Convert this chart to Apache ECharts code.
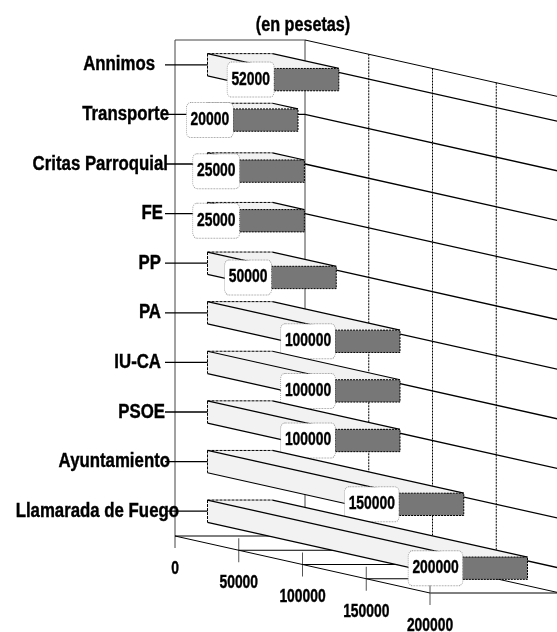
<!DOCTYPE html>
<html>
<head>
<meta charset="utf-8">
<script src="https://cdn.jsdelivr.net/npm/echarts@6/dist/echarts.min.js"></script>
<style>
  html, body { margin: 0; padding: 0; background: #fff; }
  #chart { width: 557px; height: 632px; }
</style>
</head>
<body>
<div id="chart"></div>
<script>
const chartTitle = "(en pesetas)";
const categories = ["Annimos", "Transporte", "Critas Parroquial", "FE", "PP", "PA", "IU-CA", "PSOE", "Ayuntamiento", "Llamarada de Fuego"];
const amounts = [52000, 20000, 25000, 25000, 50000, 100000, 100000, 100000, 150000, 200000];
const tickValues = [0, 50000, 100000, 150000, 200000];
const wallTicks = [50000, 100000, 150000];

// right edge of each category label, left of the axis. they are not aligned
const labelGaps = [20, 6, 7, 12, 14, 14, 14, 10, 5, -4];

const FONT = '"Liberation Sans", sans-serif';
const NARROW = 0.77; // the reference uses a squeezed bold face
const NARROW_NAMES = 0.84;
const DEPTH = 130; // depth of the left wall, px
const SHEAR = 57 / 255; // how far the value axis falls per px
const BAR_START = 0.25;
const BAR_DEPTH = 0.5;

const myChart = echarts.init(document.getElementById("chart"));

function line(x1, y1, x2, y2, stroke, lineWidth, lineDash) {
  return {
    type: "line",
    shape: { x1, y1, x2, y2 },
    style: { stroke, lineWidth, lineDash: lineDash || null }
  };
}

function narrowText(text, x, y, align, fontSize, scaleX, extra) {
  return {
    type: "text",
    x: x,
    y: y,
    scaleX: scaleX,
    style: Object.assign({
      text: text,
      x: 0,
      y: 0,
      align: align,
      verticalAlign: "middle",
      fontFamily: FONT,
      fontWeight: "bold",
      fontSize: fontSize,
      fill: "#000",
      stroke: "#000",
      lineWidth: 0.4
    }, extra || {})
  };
}

// walls, floor and all axis text, drawn behind the bars
function renderFrame(params, api) {
  const left = params.coordSys.x;
  const top = params.coordSys.y;
  const bottom = top + params.coordSys.height;
  const back = left + DEPTH;
  const children = [];

  children.push(line(left, top, back, top, "#444", 1));
  children.push(line(left, top, left, bottom + 12, "#444", 1));
  children.push(line(back, top, back, bottom, "#444", 1));

  const endX = api.coord([200000, 0])[0];
  const run = endX - left;
  children.push(line(back, top, back + run, top + run * SHEAR, "#000", 1));
  children.push(line(back, bottom, back + run, bottom + run * SHEAR, "#000", 1));
  children.push(line(left, bottom, back, bottom, "#000", 1));

  wallTicks.forEach(function (v) {
    const dx = api.coord([v, 0])[0] - left;
    children.push(line(back + dx, top + dx * SHEAR, back + dx, bottom + dx * SHEAR, "#000", 1, [2, 1]));
  });

  // category lines run across the left wall and along the back wall
  categories.forEach(function (name, i) {
    const y = api.coord([0, i])[1];
    children.push(line(left - 10, y, back, y, "#000", 1.3));
    children.push(line(back, y, back + run, y + run * SHEAR, "#000", 1.3));
  });

  // value ticks, floor lines and their labels
  tickValues.forEach(function (v) {
    const dx = api.coord([v, 0])[0] - left;
    const x = left + dx;
    const y = bottom + dx * SHEAR;
    if (v > 0) {
      children.push(line(x, y, x + DEPTH, y, "#000", 1));
      children.push(line(x, y - 12, x, y + 12, "#555", 1));
    }
    children.push(narrowText(String(v), x, y + 33, "center", 18, NARROW));
  });
  children.push(line(left, bottom, endX, bottom + run * SHEAR, "#000", 1));

  categories.forEach(function (name, i) {
    const y = api.coord([0, i])[1];
    children.push(narrowText(name, left - labelGaps[i], y, "right", 20, NARROW_NAMES));
  });
  children.push(narrowText(chartTitle, back - 2, top - 15, "center", 20, 0.81));

  return { type: "group", children };
}

function renderBar(params, api) {
  const value = api.value(0);
  const cat = api.value(1);
  const left = params.coordSys.x;
  const center = api.coord([0, cat])[1];
  const band = api.size([0, 1])[1];
  const h = band * 0.45;
  const dx = api.coord([value, cat])[0] - left;
  const dy = dx * SHEAR;
  const x0 = left + DEPTH * BAR_START;
  const w = DEPTH * BAR_DEPTH;
  const y0 = center - h / 2;

  const lightFace = { fill: "#f2f2f2" };
  return {
    type: "group",
    children: [
      {
        type: "polygon",
        shape: { points: [[x0, y0], [x0 + w, y0], [x0 + w + dx, y0 + dy], [x0 + dx, y0 + dy]] },
        style: lightFace
      },
      {
        type: "polygon",
        shape: { points: [[x0, y0], [x0 + dx, y0 + dy], [x0 + dx, y0 + dy + h], [x0, y0 + h]] },
        style: lightFace
      },
      line(x0, y0, x0 + w, y0, "#000", 1, [3, 1]),
      line(x0, y0, x0, y0 + h, "#000", 1, [3, 1]),
      line(x0, y0, x0 + dx, y0 + dy, "#000", 1.2),
      line(x0 + w, y0, x0 + w + dx, y0 + dy, "#000", 1.2),
      line(x0, y0 + h, x0 + dx, y0 + dy + h, "#000", 1.2),
      {
        type: "rect",
        shape: { x: x0 + dx, y: y0 + dy, width: w, height: h },
        style: { fill: "#777", stroke: "#000", lineWidth: 1, lineDash: [2, 1] }
      },
      narrowText(String(value), x0 + dx, y0 + dy + h / 2, "right", 18, NARROW, {
        backgroundColor: "#fff",
        borderColor: "#999",
        borderWidth: 1,
        borderDash: [1, 1],
        borderRadius: 5,
        padding: [8, 5, 8, 5]
      })
    ]
  };
}

const option = {
  animation: false,
  backgroundColor: "#fff",
  grid: { left: 175, top: 40, width: 255, height: 496 },
  xAxis: {
    type: "value",
    min: 0,
    max: 200000,
    interval: 50000,
    show: false
  },
  yAxis: {
    type: "category",
    data: categories,
    inverse: true,
    axisLine: { show: false },
    axisTick: { show: false },
    axisLabel: { show: false }
  },
  series: [
    {
      name: "frame",
      type: "custom",
      clip: false,
      silent: true,
      renderItem: renderFrame,
      data: [[0, 0]],
      encode: { x: 0, y: 1 },
      z: 1
    },
    {
      name: "Importe",
      type: "custom",
      clip: false,
      renderItem: renderBar,
      data: amounts.map(function (v, i) { return [v, i]; }),
      encode: { x: 0, y: 1 },
      z: 2
    }
  ]
};

myChart.setOption(option);
</script>
</body>
</html>
